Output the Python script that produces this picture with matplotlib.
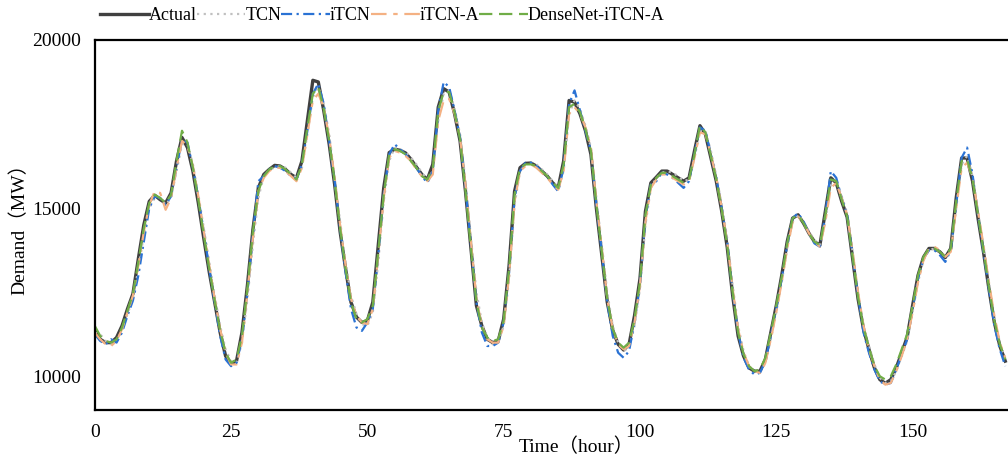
import matplotlib
matplotlib.use('Agg')
import matplotlib.pyplot as plt
import numpy as np

plt.rcParams['font.family'] = ['Liberation Serif', 'Noto Sans CJK SC']

# hourly demand (MW)
actual = [11350, 11100, 11000, 11000, 11150, 11500, 12000, 12450, 13500, 14500,
          15200, 15380, 15250, 15150, 15450, 16400, 17100, 16800, 16100, 15150,
          14100, 13100, 12200, 11300, 10600, 10380, 10450, 11300, 12700, 14350,
          15600, 16000, 16150, 16270, 16250, 16150, 16000, 15900, 16400, 17600,
          18800, 18750, 17900, 16900, 15700, 14300, 13200, 12200, 11760, 11600,
          11650, 12200, 13900, 15600, 16650, 16750, 16720, 16640, 16450, 16220,
          16000, 15850, 16300, 18000, 18550, 18450, 17800, 17000, 15500, 13800,
          12100, 11500, 11100, 11000, 11050, 11700, 13300, 15500, 16200, 16330,
          16340, 16250, 16100, 15950, 15750, 15600, 16400, 18200, 18150, 17800,
          17300, 16600, 15000, 13600, 12200, 11370, 10950, 10780, 10950, 11800,
          12900, 14900, 15750, 15920, 16100, 16100, 16000, 15900, 15800, 15900,
          16700, 17450, 17200, 16500, 15800, 14900, 13840, 12400, 11200, 10600,
          10250, 10150, 10150, 10500, 11300, 12100, 13000, 14000, 14700, 14800,
          14550, 14250, 14000, 13900, 14900, 15900, 15750, 15200, 14730, 13500,
          12300, 11400, 10800, 10250, 9900, 9790, 9900, 10250, 10700, 11160,
          12100, 13000, 13540, 13800, 13800, 13700, 13530, 13800, 15300, 16490,
          16490, 15800, 14700, 13700, 12600, 11600, 10900, 10450]

tcn = [11300, 11250, 11050, 10950, 11050, 11350, 11850, 12300, 13200, 14200,
       15000, 15300, 15300, 15100, 15300, 16100, 16900, 16900, 16300, 15400,
       14400, 13400, 12400, 11500, 10800, 10450, 10400, 11000, 12300, 13900,
       15300, 15950, 16150, 16200, 16250, 16200, 16050, 15900, 16200, 17200,
       18300, 18600, 18100, 17200, 15900, 14600, 13400, 12400, 11850, 11550,
       11500, 11900, 13400, 15200, 16400, 16800, 16750, 16650, 16500, 16300,
       16050, 15850, 16100, 17600, 18400, 18500, 17950, 17200, 15800, 14100,
       12500, 11600, 11150, 10950, 11000, 11500, 12900, 15100, 16100, 16300,
       16350, 16300, 16150, 16000, 15800, 15600, 16100, 17800, 18200, 17950,
       17450, 16800, 15300, 13900, 12500, 11500, 11000, 10750, 10850, 11500,
       12600, 14500, 15600, 15900, 16050, 16100, 16050, 15950, 15800, 15850,
       16500, 17300, 17300, 16700, 15950, 15100, 14100, 12700, 11500, 10750,
       10300, 10150, 10100, 10400, 11100, 11900, 12800, 13800, 14600, 14800,
       14600, 14300, 14050, 13900, 14600, 15700, 15850, 15350, 14850, 13700,
       12500, 11500, 10900, 10350, 9950, 9800, 9850, 10150, 10600, 11050,
       11900, 12800, 13450, 13750, 13800, 13700, 13550, 13700, 15000, 16300,
       16550, 15950, 14900, 13900, 12800, 11750, 11000, 10500]

itcn = [11250, 11050, 10950, 11100, 11000, 11300, 11800, 12250, 13000, 14000,
        15000, 15350, 15300, 15100, 15350, 16200, 17050, 16950, 16200, 15300,
        14300, 13200, 12200, 11200, 10500, 10300, 10400, 11100, 12500, 14200,
        15800, 15950, 16150, 16250, 16200, 16100, 15950, 15850, 16300, 17300,
        18400, 18700, 18100, 17000, 15800, 14400, 13100, 12000, 11450, 11350,
        11600, 12000, 13600, 15400, 16600, 16900, 16750, 16600, 16400, 16200,
        15950, 15750, 16100, 17900, 18750, 18600, 17900, 17100, 15600, 13900,
        12200, 11300, 10900, 10900, 11000, 11600, 13100, 15300, 16100, 16350,
        16350, 16250, 16100, 15950, 15700, 15500, 16200, 18100, 18500, 17900,
        17300, 16700, 15100, 13700, 12200, 11200, 10700, 10550, 10750, 11600,
        12700, 14700, 15700, 15800, 16050, 16000, 15900, 15750, 15600, 15800,
        16600, 17400, 17300, 16600, 15900, 15000, 14000, 12500, 11300, 10550,
        10200, 10050, 10100, 10450, 11200, 12000, 12900, 13900, 14700, 14850,
        14600, 14250, 13950, 13850, 14800, 16100, 15900, 15300, 14800, 13600,
        12400, 11300, 10700, 10200, 9850, 9750, 9800, 10200, 10650, 11100,
        12000, 12900, 13500, 13750, 13750, 13600, 13400, 13750, 15100, 16500,
        16800, 16000, 14800, 13700, 12600, 11500, 10800, 10300]

itcn_a = [11300, 11100, 10950, 10900, 11050, 11400, 11900, 12400, 13300, 14300,
          15100, 15500, 15450, 14950, 15300, 16200, 17000, 16850, 16250, 15350,
          14300, 13300, 12300, 11400, 10700, 10350, 10350, 11000, 12500, 14100,
          15500, 15900, 16100, 16200, 16200, 16100, 15950, 15800, 16200, 17200,
          18200, 18400, 18000, 17100, 15900, 14500, 13300, 12300, 11800, 11600,
          11550, 12000, 13600, 15300, 16500, 16700, 16650, 16550, 16400, 16150,
          15950, 15800, 16000, 17600, 18200, 18250, 17800, 17100, 15700, 14000,
          12300, 11500, 11100, 11000, 11000, 11500, 13000, 15200, 16100, 16250,
          16300, 16200, 16050, 15900, 15700, 15550, 16100, 17800, 18000, 17800,
          17400, 16800, 15200, 13800, 12300, 11400, 10950, 10800, 10900, 11600,
          12700, 14600, 15600, 15850, 16000, 16000, 15900, 15800, 15700, 15800,
          16500, 17250, 17200, 16600, 15900, 15000, 14000, 12600, 11400, 10700,
          10300, 10150, 10100, 10400, 11100, 11900, 12800, 13800, 14600, 14750,
          14550, 14250, 14000, 13850, 14600, 15600, 15750, 15300, 14800, 13700,
          12500, 11500, 10800, 10300, 9900, 9750, 9800, 10150, 10600, 11100,
          11900, 12800, 13450, 13800, 13850, 13750, 13550, 13700, 15000, 16200,
          16350, 15900, 14900, 13900, 12800, 11800, 11000, 10550]

dense = [11500, 11200, 11050, 11000, 11100, 11450, 11950, 12450, 13400, 14400,
         15150, 15400, 15300, 15150, 15400, 16400, 17300, 16950, 16200, 15250,
         14200, 13200, 12250, 11350, 10700, 10400, 10500, 11200, 12600, 14300,
         15500, 15950, 16150, 16250, 16250, 16150, 16000, 15850, 16300, 17400,
         18400, 18600, 17950, 17000, 15800, 14400, 13200, 12200, 11700, 11600,
         11700, 12100, 13700, 15400, 16600, 16750, 16700, 16600, 16400, 16200,
         15950, 15850, 16200, 17900, 18450, 18450, 17850, 17050, 15500, 13800,
         12200, 11450, 11150, 11050, 11100, 11650, 13200, 15400, 16200, 16300,
         16300, 16250, 16100, 15950, 15750, 15600, 16300, 18000, 18100, 17850,
         17350, 16700, 15100, 13700, 12300, 11400, 11000, 10850, 11000, 11700,
         12800, 14800, 15700, 15900, 16050, 16050, 15950, 15850, 15750, 15850,
         16600, 17450, 17250, 16550, 15850, 14950, 13900, 12500, 11300, 10650,
         10300, 10150, 10200, 10550, 11300, 12100, 12950, 13950, 14700, 14800,
         14550, 14250, 14000, 13900, 14800, 15850, 15800, 15250, 14750, 13550,
         12350, 11450, 10850, 10300, 10000, 9900, 10000, 10350, 10800, 11250,
         12100, 13000, 13550, 13800, 13800, 13700, 13550, 13800, 15200, 16400,
         16450, 15850, 14800, 13750, 12650, 11650, 10950, 10500]

hours = np.arange(len(actual))

fig = plt.figure(figsize=(10.08, 4.59), dpi=100)
ax = fig.add_axes([0.094, 0.107, 0.906, 0.806])

ax.plot(hours, actual, color='#404040', lw=2.4, label='Actual')
ax.plot(hours, tcn, color='#c0c0c0', lw=1.6, dashes=(1, 2), label='TCN')
ax.plot(hours, itcn, color='#2a72d4', lw=1.6, dashes=(5, 2, 1, 2), label='iTCN')
ax.plot(hours, itcn_a, color='#f4b183', lw=1.6, dashes=(7, 3, 2, 3), label='iTCN-A')
ax.plot(hours, dense, color='#70ad47', lw=1.6, dashes=(6, 3), label='DenseNet-iTCN-A')

ax.set_xlim(0, 167.5)
ax.set_ylim(9000, 20000)
ax.set_xticks([0, 25, 50, 75, 100, 125, 150])
ax.set_yticks([10000, 15000, 20000])
ax.tick_params(length=0, labelsize=14)
ax.tick_params(axis='x', pad=10)
ax.tick_params(axis='y', pad=10)

for side in ['left', 'top', 'bottom']:
    ax.spines[side].set_linewidth(1.6)
    ax.spines[side].set_color('black')
ax.spines['right'].set_visible(False)

ax.set_xlabel('Time（hour）', fontsize=14)
ax.xaxis.set_label_coords(0.527, -0.075)
ax.set_ylabel('Demand（MW）', fontsize=14)
ax.yaxis.set_label_coords(-0.072, 0.5)

fig.legend(loc='upper left', bbox_to_anchor=(0.083, 1.02), ncol=5, frameon=False,
           fontsize=13, handlelength=2.7, handletextpad=0.0, columnspacing=0.0)

plt.savefig('out.png', dpi=100)
